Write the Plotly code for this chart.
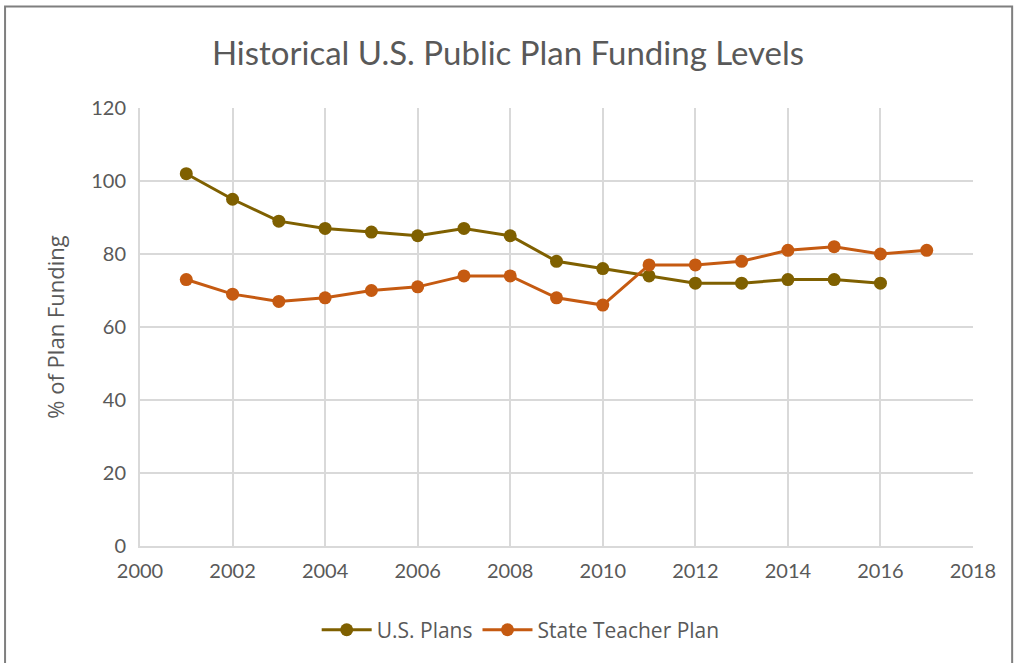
import plotly.graph_objects as go

years_us = list(range(2001, 2017))
us_plans = [102, 95, 89, 87, 86, 85, 87, 85, 78, 76, 74, 72, 72, 73, 73, 72]
years_st = list(range(2001, 2018))
state_teacher = [73, 69, 67, 68, 70, 71, 74, 74, 68, 66, 77, 77, 78, 81, 82, 80, 81]

x_ticks = list(range(2000, 2019, 2))
y_ticks = list(range(0, 121, 20))

FONT = "Lato"
FONT2 = "Open Sans"
TXT = "#595959"
GRID = "#d9d9d9"

fig = go.Figure()
fig.add_trace(go.Scatter(x=years_us, y=us_plans, name="U.S. Plans", mode="lines+markers",
                         line=dict(color="#7F6000", width=3),
                         marker=dict(color="#7F6000", size=13)))
fig.add_trace(go.Scatter(x=years_st, y=state_teacher, name="State Teacher Plan", mode="lines+markers",
                         line=dict(color="#C55A11", width=3),
                         marker=dict(color="#C55A11", size=13)))

fig.update_layout(
    width=1016, height=663,
    paper_bgcolor="white", plot_bgcolor="white",
    margin=dict(l=140, r=43, t=108, b=117),
    font=dict(family=FONT, color=TXT, size=20),
    title=dict(text="Historical U.S. Public Plan Funding Levels", x=0.5, xanchor="center",
               y=0.92, yanchor="middle", font=dict(size=33, color=TXT, family=FONT)),
    xaxis=dict(range=[2000, 2018], tickvals=x_ticks, showgrid=True, gridcolor=GRID, gridwidth=2,
               showline=True, linecolor=GRID, linewidth=2, zeroline=False, ticks="",
               ticklabelstandoff=6,
               tickfont=dict(size=20, color=TXT, family=FONT)),
    yaxis=dict(range=[0, 120], tickvals=y_ticks, showgrid=True, gridcolor=GRID, gridwidth=2,
               showline=True, linecolor=GRID, linewidth=2, zeroline=False, ticks="",
               ticklabelstandoff=8,
               title=dict(text="% of Plan Funding", font=dict(size=22, color=TXT, family=FONT2), standoff=20),
               tickfont=dict(size=20, color=TXT, family=FONT)),
    legend=dict(orientation="h", x=0.457, xanchor="center", y=-0.192, yanchor="middle",
                font=dict(size=21, color=TXT, family=FONT2), itemwidth=50),
    showlegend=True,
)

fig.add_shape(type="rect", xref="paper", yref="paper", x0=-0.162, x1=1.047, y0=-0.3, y1=1.232,
              line=dict(color="#7f7f7f", width=2), fillcolor="rgba(0,0,0,0)", layer="above")

fig.write_html("out.html", config={"displayModeBar": False},
               post_script="document.body.style.margin='0';")
